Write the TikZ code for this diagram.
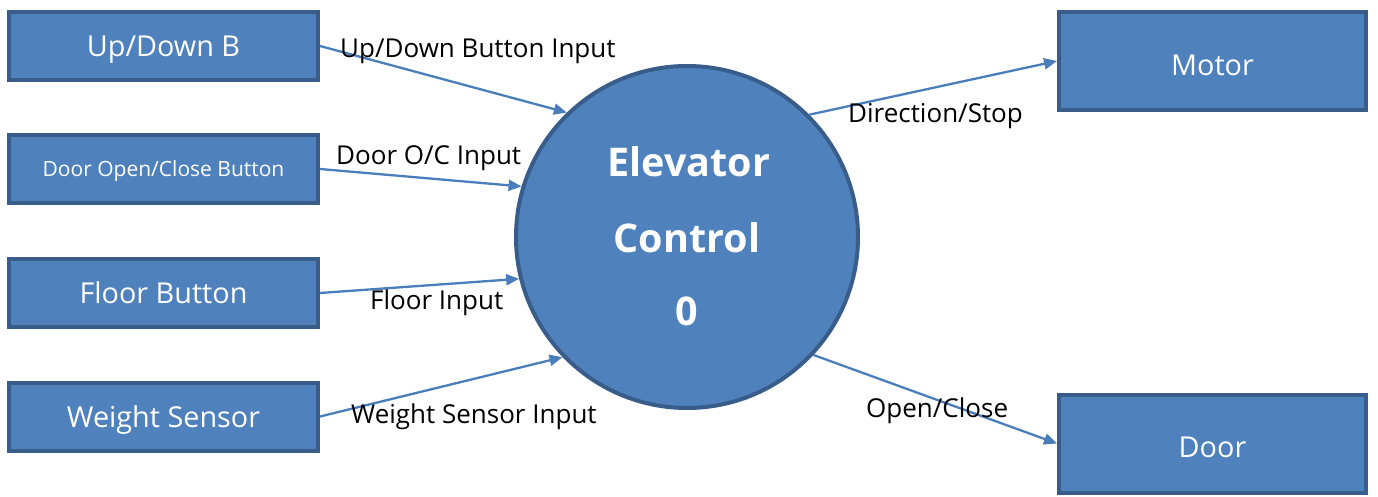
\documentclass[tikz,border=0pt]{standalone}
\usepackage{fontspec}
\setmainfont{Open Sans}
\usetikzlibrary{arrows.meta}
\definecolor{boxfill}{HTML}{4F81BD}
\definecolor{boxline}{HTML}{385D8A}
\definecolor{arrowc}{HTML}{4A7EBB}
\begin{document}
\begin{tikzpicture}[x=1pt,y=-1pt,
  box/.style={draw=boxline,fill=boxfill,line width=4pt,inner sep=0pt,text depth=0pt,
    minimum width=309pt,minimum height=68pt,text=white,font=\fontsize{28.8}{32}\selectfont},
  bigbox/.style={box,minimum width=307pt,minimum height=98pt,text height=28.6pt},
  proc/.style={circle,draw=boxline,fill=boxfill,line width=4pt,minimum size=342pt,inner sep=0pt},
  flow/.style={draw=arrowc,line width=2.3pt,-{Triangle[length=13pt,width=11pt]}},
  lbl/.style={font=\fontsize{26}{30}\selectfont,inner sep=0pt,anchor=west,text depth=0pt},
  ctext/.style={text=white,font=\fontsize{39.5}{44}\selectfont\bfseries,inner sep=0pt}]
\useasboundingbox (0,0) rectangle (1378,497);
\node[box] (b1) at (163.5,46) {Up/Down B};
\node[box,font=\fontsize{21}{25}\selectfont] (b2) at (163.5,169) {Door Open/Close Button};
\node[box] (b3) at (163.5,293) {Floor Button};
\node[box] (b4) at (163.5,416.5) {Weight Sensor};
\node[bigbox] (motor) at (1212.5,61) {Motor};
\node[bigbox] (door) at (1212.5,443.5) {Door};
\node[proc] (c) at (687,237) {};
\node[ctext] (t1) at (689,162) {Elevator};
\node[ctext] (t2) at (687,238) {Control};
\node[ctext] (t3) at (687,311) {0};
\draw[flow] (b1.east) -- (c.134);
\draw[flow] (b2.east) -- (c.163);
\draw[flow] (b3.east) -- (c.194);
\draw[flow] (b4.east) -- (c.224);
\draw[flow] (c.45) -- (motor.west);
\draw[flow] (c.-43) -- (door.west);
\node[lbl] (l1) at (340,48) {Up/Down Button Input};
\node[lbl] (l2) at (336,155) {Door O/C Input};
\node[lbl] (l3) at (370,300) {Floor Input};
\node[lbl] (l4) at (351,414) {Weight Sensor Input};
\node[lbl] (l5) at (848,113) {Direction/Stop};
\node[lbl] (l6) at (866,408) {Open/Close};
\end{tikzpicture}
\end{document}
